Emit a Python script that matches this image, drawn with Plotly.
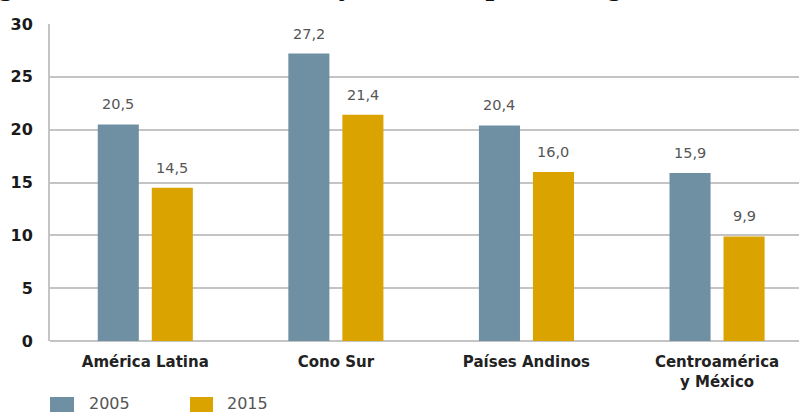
import plotly.graph_objects as go

# Subregions and values for each year
categories = ["América Latina", "Cono Sur", "Países Andinos", "Centroamérica<br>y México"]
years = ["2005", "2015"]
values_2005 = [20.5, 27.2, 20.4, 15.9]
values_2015 = [14.5, 21.4, 16.0, 9.9]
y_ticks = [0, 5, 10, 15, 20, 25, 30]
title_text = "género en América Latina y el Caribe por subregión."

series = [values_2005, values_2015]
colors = ["#6f8fa3", "#dba300"]
shifts = [-27, 27]

W, H = 799, 412
ML, MR, MT, MB = 50, 0, 24, 71
plot_w = W - ML - MR
plot_h = H - MT - MB


def px_x(X):
    return (X - ML) / plot_w


def px_y(Y):
    return (H - MB - Y) / plot_h


fig = go.Figure()
for name, vals, col in zip(years, series, colors):
    fig.add_trace(go.Bar(x=categories, y=vals, name=name, marker_color=col,
                         marker_line_width=0, showlegend=False))

annotations = []
# value labels above each bar
for vals, dx in zip(series, shifts):
    for cat, v in zip(categories, vals):
        annotations.append(dict(
            x=cat, y=v, xref="x", yref="y", text=f"{v:.1f}".replace(".", ","),
            showarrow=False, xanchor="center", yanchor="bottom",
            xshift=dx, yshift=10,
            font=dict(family="DejaVu Sans", size=14.5, color="#555555")))

# title line running off the top edge
annotations.append(dict(
    x=px_x(-2), y=px_y(3), xref="paper", yref="paper", text=title_text,
    showarrow=False, xanchor="left", yanchor="bottom",
    font=dict(family="Liberation Serif", size=31, color="#111111",
              style="italic", weight="bold")))

# legend: swatches and year labels
shapes = []
legend_pos = [(50, 74, 87), (190, 213, 225)]
for (x0, x1, tx), col, name in zip(legend_pos, colors, years):
    shapes.append(dict(type="rect", xref="paper", yref="paper",
                       x0=px_x(x0), x1=px_x(x1), y0=px_y(425), y1=px_y(397),
                       fillcolor=col, line_width=0))
    annotations.append(dict(
        x=px_x(tx), y=px_y(403), xref="paper", yref="paper", text=name,
        showarrow=False, xanchor="left", yanchor="middle",
        font=dict(family="DejaVu Sans", size=16, color="#555555")))

fig.update_layout(
    width=W, height=H,
    margin=dict(l=ML, r=MR, t=MT, b=MB, pad=0),
    paper_bgcolor="white", plot_bgcolor="white",
    barmode="group", bargap=0.433, bargroupgap=0.24,
    annotations=annotations, shapes=shapes,
    showlegend=False,
)
fig.update_xaxes(
    range=[-0.5, 3.43], showgrid=False, showline=False, ticks="",
    tickfont=dict(family="DejaVu Sans", size=15, color="#222222", weight="bold"),
    ticklabelstandoff=10,
)
fig.update_yaxes(
    range=[0, 30], tickvals=y_ticks, showgrid=True, gridcolor="#c4c4c4", gridwidth=2,
    zeroline=True, zerolinecolor="#c4c4c4", zerolinewidth=2,
    showline=True, linecolor="#c4c4c4", linewidth=2, ticks="",
    tickfont=dict(family="DejaVu Sans", size=16, color="#1a1a1a", weight="bold"),
    ticklabelstandoff=12,
)

fig.write_html("out.html")
